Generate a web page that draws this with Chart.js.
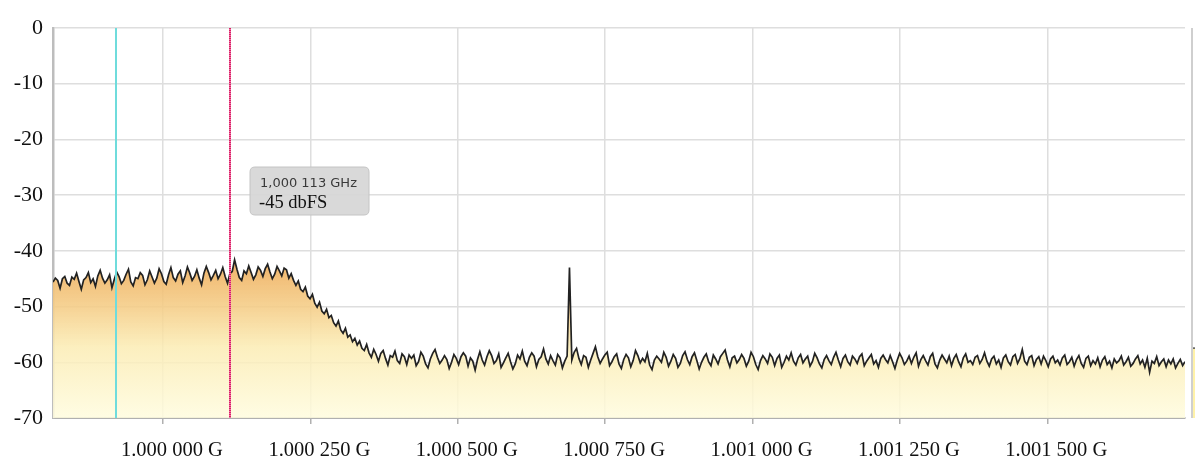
<!DOCTYPE html>
<html>
<head>
<meta charset="utf-8">
<script src="https://cdn.jsdelivr.net/npm/chart.js@4.4.1/dist/chart.umd.min.js"></script>
<style>
  html, body { margin: 0; padding: 0; background: #ffffff; }
  #wrap { width: 1195px; height: 461px; position: relative; }
</style>
</head>
<body>
<div id="wrap"><canvas id="c" width="1195" height="461"></canvas></div>
<script>
// ---- Data ----
const freqStartMHz = 999.8135;   // left edge of the span
const freqStepMHz = 0.004;       // bin spacing
const xTickValuesMHz = [1000.000, 1000.250, 1000.500, 1000.750, 1001.000, 1001.250, 1001.500];
const yTickLabels = [0, -10, -20, -30, -40, -50, -60, -70];

const levelsPassband = [
  -45.6,-44.9,-45.3,-46.7,-45.0,-44.6,-45.8,-46.2,-44.7,-45.1,
  -44.0,-45.5,-46.9,-45.2,-44.8,-43.9,-45.7,-45.0,-46.4,-44.5,
  -43.5,-44.9,-45.8,-45.2,-44.3,-46.6,-45.1,-43.8,-44.6,-45.9,
  -45.3,-44.2,-43.3,-45.6,-46.3,-44.8,-45.0,-43.9,-44.4,-46.1,
  -45.2,-43.6,-44.7,-45.8,-44.9,-43.2,-44.1,-45.5,-46.0,-44.3,
  -43.0,-44.8,-45.4,-44.2,-43.6,-45.7,-44.5,-42.9,-44.0,-45.3,
  -44.6,-43.4,-44.9,-46.1,-44.0,-42.8,-43.9,-45.2,-44.4,-43.5,
  -45.0,-44.2,-43.0,-44.6,-45.8,-44.1,-43.7,-41.6,-43.3,-44.8,
  -45.3,-43.6,-44.1,-42.7,-43.9,-45.1,-44.3,-42.9,-43.5,-44.6,
  -43.2,-42.4,-43.8,-45.0,-44.2,-42.8,-43.6,-44.5,-43.1
];
const levelsRolloff = [
  -43.4,-44.9,-44.1,-45.3,-46.2,-45.4,-46.9,-47.3,-46.5,-48.1,
  -48.6,-47.8,-49.4,-50.1,-49.2,-50.8,-51.3,-50.5,-52.0,-51.6,
  -52.9,-53.5,-52.6,-54.2,-54.8,-53.9,-55.5,-55.1,-56.3,-55.7,
  -56.9,-56.2,-57.5,-57.9,-56.8,-58.3,-59.1,-57.7,-58.6,-59.8,
  -58.4,-57.9,-59.3,-60.5,-58.8,-59.1,-58.0,-59.7,-60.2,-58.5,
  -59.0,-60.4,-58.7
];
const levelsNoiseFloor = [
  -59.3,-58.7,-60.6,-59.9,-58.2,-58.9,-60.3,-61.0,-59.4,-58.4,
  -57.7,-59.1,-60.2,-59.6,-58.8,-59.5,-61.1,-60.0,-58.6,-59.3,
  -60.4,-59.0,-58.3,-58.9,-60.7,-59.2,-59.8,-61.4,-59.5,-58.1,
  -59.6,-60.5,-59.0,-57.9,-58.8,-60.2,-59.7,-58.5,-60.9,-60.1,
  -59.2,-58.4,-59.9,-61.2,-60.3,-58.7,-59.4,-58.0,-59.8,-60.6,
  -59.1,-58.3,-58.9,-60.8,-59.5,-59.0,-57.6,-59.4,-60.3,-58.8,
  -59.7,-60.5,-58.6,-59.2,-61.0,-59.8,-58.9,-43.0,-59.6,-58.2,
  -57.5,-59.3,-60.4,-58.8,-59.1,-60.9,-59.6,-58.4,-57.2,-59.0,
  -60.2,-59.4,-58.7,-58.2,-60.6,-59.9,-59.0,-58.5,-60.3,-61.1,
  -59.5,-58.6,-59.2,-60.8,-59.7,-57.9,-58.8,-60.1,-59.3,-59.9,
  -58.4,-60.5,-61.3,-59.6,-58.9,-59.4,-60.0,-58.2,-59.1,-60.7,
  -59.8,-58.6,-59.3,-60.9,-60.2,-58.8,-58.1,-59.5,-60.4,-59.0,
  -58.3,-59.7,-61.2,-60.0,-59.1,-58.5,-59.9,-60.6,-58.7,-59.4,
  -60.3,-59.0,-58.4,-57.8,-59.6,-60.8,-59.2,-58.9,-60.1,-59.5,
  -58.6,-59.3,-60.7,-59.8,-58.2,-59.0,-60.4,-61.3,-59.7,-58.8,
  -59.4,-60.2,-58.5,-59.1,-60.6,-59.3,-58.7,-60.9,-60.0,-58.9,
  -59.6,-58.3,-59.8,-60.5,-59.2,-58.6,-60.1,-59.4,-58.9,-60.7,
  -59.9,-58.4,-59.2,-60.3,-61.0,-59.5,-58.8,-59.7,-60.4,-59.1,
  -58.2,-59.6,-60.8,-59.3,-58.7,-59.9,-60.5,-58.9,-59.4,-60.2,
  -59.0,-58.5,-60.6,-59.8,-59.2,-58.6,-60.3,-59.7,-60.9,-59.3,
  -58.7,-59.5,-60.1,-58.8,-59.9,-61.1,-59.6,-58.4,-59.2,-60.4,
  -59.8,-58.9,-60.2,-59.1,-58.3,-60.7,-59.5,-58.8,-59.7,-60.5,
  -59.0,-58.4,-60.3,-61.0,-59.6,-58.7,-59.4,-60.1,-58.9,-60.6,
  -59.3,-58.6,-59.9,-60.8,-59.2,-58.5,-60.0,-59.7,-60.4,-59.1,
  -58.8,-60.2,-59.5,-58.3,-59.8,-60.7,-59.4,-58.9,-60.3,-59.6,
  -60.9,-59.2,-58.7,-59.9,-60.5,-59.0,-58.6,-60.2,-59.3,-57.7,
  -59.8,-60.4,-59.1,-58.8,-60.6,-59.5,-59.0,-60.3,-58.9,-59.7,
  -60.8,-59.4,-58.9,-60.1,-59.6,-60.5,-59.2,-58.7,-60.4,-59.9,
  -59.1,-60.7,-59.5,-58.8,-60.2,-60.9,-59.3,-58.9,-60.6,-59.7,
  -60.3,-59.2,-60.8,-59.6,-59.0,-60.4,-59.8,-61.0,-59.4,-60.1,
  -59.7,-58.9,-60.5,-59.9,-59.1,-60.7,-60.2,-59.4,-58.8,-60.3,
  -59.6,-60.9,-59.3,-61.8,-59.8,-60.2,-59.0,-60.6,-59.9,-59.4,
  -60.8,-59.6,-60.3,-59.4,-61.0,-60.2,-59.5,-60.6,-59.9
];
const levels = levelsPassband.concat(levelsRolloff, levelsNoiseFloor);

const cursorAMHz = 999.920;   // cyan marker
const cursorBMHz = 1000.113;  // magenta marker (tooltip)
const tooltipLines = ['1,000 113 GHz', '-45 dbFS'];
const neighbourPanelLevel = -57.5; // trace level visible at the far-right panel edge

// ---- Build ----
const freqEndMHz = freqStartMHz + (levels.length - 1) * freqStepMHz;
const points = levels.map((v, i) => ({ x: freqStartMHz + i * freqStepMHz, y: v }));

function fmtFreq(v) {
  const s = (v / 1000).toFixed(6); // e.g. 1.000250
  return s.slice(0, 5) + ' ' + s.slice(5) + ' G';
}

const overlayPlugin = {
  id: 'overlay',
  afterDatasetsDraw(chart) {
    const { ctx, chartArea: a, scales: { x, y } } = chart;
    ctx.save();
    // cyan marker
    const xa = Math.round(x.getPixelForValue(cursorAMHz));
    ctx.strokeStyle = '#6fdcdc';
    ctx.lineWidth = 2;
    ctx.beginPath(); ctx.moveTo(xa, a.top); ctx.lineTo(xa, a.bottom); ctx.stroke();
    // magenta marker
    const xb = Math.round(x.getPixelForValue(cursorBMHz));
    ctx.strokeStyle = '#f07aa8';
    ctx.beginPath(); ctx.moveTo(xb, a.top); ctx.lineTo(xb, a.bottom); ctx.stroke();
    ctx.strokeStyle = '#d81e64';
    ctx.setLineDash([1, 1]);
    ctx.beginPath(); ctx.moveTo(xb, a.top); ctx.lineTo(xb, a.bottom); ctx.stroke();
    ctx.setLineDash([]);

    // tooltip box
    const bx = xb + 20, by = 167, bw = 119, bh = 48, r = 5;
    ctx.fillStyle = 'rgba(214,214,214,0.92)';
    ctx.strokeStyle = '#c4c4c4';
    ctx.lineWidth = 1;
    ctx.beginPath();
    ctx.moveTo(bx + r, by);
    ctx.lineTo(bx + bw - r, by); ctx.quadraticCurveTo(bx + bw, by, bx + bw, by + r);
    ctx.lineTo(bx + bw, by + bh - r); ctx.quadraticCurveTo(bx + bw, by + bh, bx + bw - r, by + bh);
    ctx.lineTo(bx + r, by + bh); ctx.quadraticCurveTo(bx, by + bh, bx, by + bh - r);
    ctx.lineTo(bx, by + r); ctx.quadraticCurveTo(bx, by, bx + r, by);
    ctx.closePath(); ctx.fill(); ctx.stroke();
    ctx.textBaseline = 'alphabetic';
    ctx.textAlign = 'left';
    ctx.fillStyle = '#3a3a3a';
    ctx.font = '13px "DejaVu Sans", sans-serif';
    ctx.fillText(tooltipLines[0], bx + 10, by + 19.5);
    ctx.fillStyle = '#111111';
    ctx.font = '18.5px "Liberation Serif", serif';
    ctx.fillText(tooltipLines[1], bx + 9, by + 40.5);

    // neighbouring panel edge at far right
    const ex = a.right + 7;
    ctx.strokeStyle = '#cfcfcf';
    ctx.lineWidth = 2;
    ctx.beginPath(); ctx.moveTo(ex, a.top); ctx.lineTo(ex, a.bottom); ctx.stroke();
    const ny = y.getPixelForValue(neighbourPanelLevel);
    ctx.fillStyle = '#fff2a8';
    ctx.fillRect(ex + 1, ny, 10, a.bottom - ny);
    ctx.fillStyle = '#555';
    ctx.fillRect(ex + 1, ny - 1, 10, 1.5);
    ctx.restore();
  }
};

const ctx = document.getElementById('c').getContext('2d');
new Chart(ctx, {
  type: 'line',
  data: {
    datasets: [{
      data: points,
      borderColor: '#222222',
      borderWidth: 1.7,
      pointRadius: 0,
      tension: 0,
      fill: 'start',
      backgroundColor: (c) => {
        const ch = c.chart;
        const a = ch.chartArea;
        if (!a) return 'rgba(255,250,210,0.85)';
        const y = ch.scales.y;
        const g = ch.ctx.createLinearGradient(0, y.getPixelForValue(-42), 0, y.getPixelForValue(-70));
        g.addColorStop(0.0, 'rgba(238,174,94,0.92)');
        g.addColorStop(0.3, 'rgba(245,206,136,0.88)');
        g.addColorStop(0.55, 'rgba(251,236,180,0.85)');
        g.addColorStop(1.0, 'rgba(255,252,222,0.85)');
        return g;
      }
    }]
  },
  options: {
    responsive: false,
    animation: false,
    events: [],
    layout: { padding: { top: 28, right: 10, left: 0, bottom: 0 } },
    plugins: { legend: { display: false }, tooltip: { enabled: false } },
    scales: {
      x: {
        type: 'linear',
        min: freqStartMHz,
        max: freqEndMHz,
        afterBuildTicks(scale) { scale.ticks = xTickValuesMHz.map(v => ({ value: v })); },
        afterFit(scale) { scale.height = 43; },
        grid: { color: '#dedede', lineWidth: 1.5, tickLength: 6, tickColor: '#b0b0b0', tickWidth: 1.5 },
        border: { color: '#b0b0b0', width: 2 },
        ticks: {
          autoSkip: false, maxRotation: 0, padding: 14, color: '#111', labelOffset: 9,
          font: { family: '"Liberation Serif", serif', size: 20.5 },
          callback: (v) => fmtFreq(v)
        }
      },
      y: {
        min: -70, max: 0,
        afterFit(scale) { scale.width = 53; },
        grid: { color: '#dedede', lineWidth: 1.5, drawTicks: false },
        border: { color: '#bdbdbd', width: 2.5 },
        ticks: {
          stepSize: 5, padding: 10, color: '#111',
          font: { family: '"Liberation Serif", serif', size: 22 },
          callback: (v) => (yTickLabels.includes(v) ? String(v) : '')
        }
      }
    }
  },
  plugins: [overlayPlugin]
});
</script>
</body>
</html>
